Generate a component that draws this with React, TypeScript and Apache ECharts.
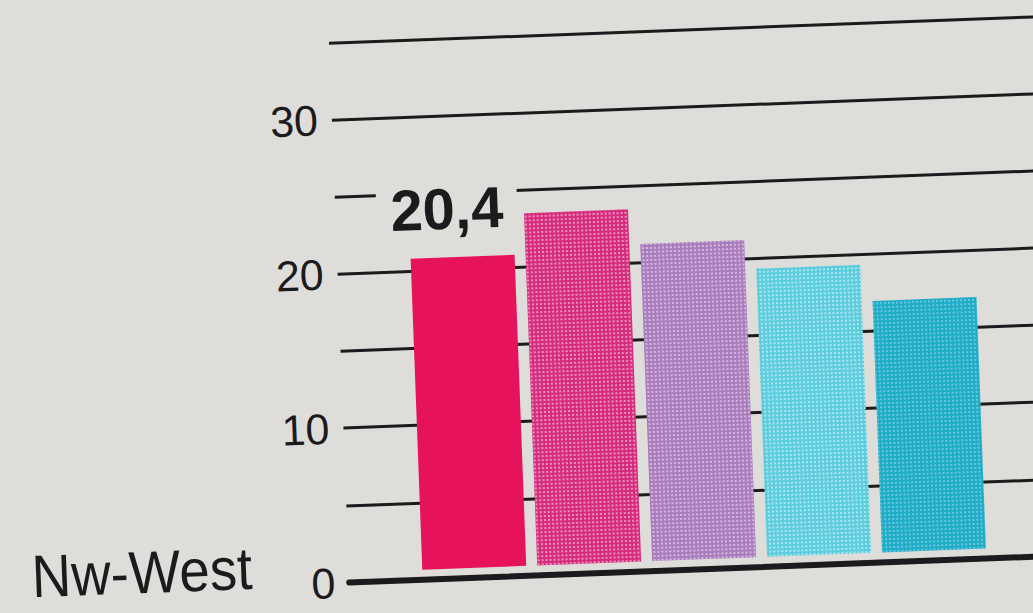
import React, { useEffect, useRef } from 'react';
import * as echarts from 'echarts';

// ---- data ----
const categories = ['1', '2', '3', '4', '5'];
const values = [20.4, 23.1, 20.8, 18.9, 16.5];
const barColors = ['#e6125b', '#d62c7d', '#a97cbc', '#5ccbdb', '#20abc7'];
const dotColors = ['', 'rgba(255,225,240,0.55)', 'rgba(245,230,250,0.55)', 'rgba(235,255,255,0.55)', 'rgba(210,245,250,0.4)'];
const yMin = 0;
const yMax = 35;
const yStep = 5;
const yLabelStep = 10;
const regionLabel = 'Nw-West';
const labeledIndex = 0;

const PAPER = '#dfddd9';
const INK = '#1b1a1c';
const REGULAR = '"Liberation Sans", Arial, sans-serif';

export default function App() {
  const ref = useRef<HTMLDivElement>(null);

  useEffect(() => {
    const chart = echarts.init(ref.current as HTMLDivElement, undefined, { renderer: 'svg' });
    const option = {
      animation: false,
      backgroundColor: 'transparent',
      grid: [
        { left: 339, right: 10, top: 36, bottom: 37 },
        { left: 407, width: 575, top: 32, bottom: 47 },
      ],
      xAxis: [
        {
          type: 'category',
          gridIndex: 0,
          data: categories,
          axisLine: { show: true, lineStyle: { color: INK, width: 6 } },
          axisTick: { show: false },
          axisLabel: { show: false },
          splitLine: { show: false },
        },
        {
          type: 'category',
          gridIndex: 1,
          data: categories,
          axisLine: { show: false },
          axisTick: { show: false },
          axisLabel: { show: false },
          splitLine: { show: false },
        },
      ],
      yAxis: [
        {
          type: 'value',
          gridIndex: 0,
          min: yMin,
          max: yMax,
          interval: yStep,
          axisLine: { show: false },
          axisTick: { show: false },
          splitLine: { show: true, lineStyle: { color: INK, width: 3 } },
          axisLabel: {
            margin: 14,
            fontSize: 43,
            fontFamily: REGULAR,
            color: INK,
            formatter: (v: number) => (v % yLabelStep === 0 ? String(v) : ''),
          },
        },
        {
          type: 'value',
          gridIndex: 1,
          min: yMin,
          max: yMax,
          interval: yStep,
          show: false,
          splitLine: { show: false },
        },
      ],
      series: [
        {
          type: 'bar',
          xAxisIndex: 1,
          yAxisIndex: 1,
          barWidth: 104,
          data: values.map((v, i) => ({
            value: v,
            itemStyle: dotColors[i]
              ? {
                  color: barColors[i],
                  decal: {
                    symbol: 'rect',
                    symbolSize: 1,
                    dashArrayX: [2, 2],
                    dashArrayY: [2, 2],
                    color: dotColors[i],
                  },
                }
              : { color: barColors[i] },
            label:
              i === labeledIndex
                ? {
                    show: true,
                    position: 'top',
                    distance: 20,
                    offset: [-14, 0],
                    fontSize: 58,
                    fontWeight: 'bold',
                    fontFamily: REGULAR,
                    color: INK,
                    backgroundColor: PAPER,
                    padding: [0, 14],
                    lineHeight: 58,
                    formatter: (p: any) => String(p.value).replace('.', ','),
                  }
                : { show: false },
          })),
        },
      ],
      graphic: [
        {
          type: 'text',
          x: 22,
          y: 558,
          scaleX: 0.91,
          style: {
            text: regionLabel,
            fontSize: 60,
            fontFamily: REGULAR,
            fill: INK,
            verticalAlign: 'middle',
          },
        },
      ],
    };
    chart.setOption(option as any);
    return () => chart.dispose();
  }, []);

  return (
    <div
      style={{
        position: 'fixed',
        left: 0,
        top: 0,
        width: 1033,
        height: 613,
        overflow: 'hidden',
        background: PAPER,
      }}
    >
      <div
        ref={ref}
        style={{
          position: 'absolute',
          left: 0,
          top: 0,
          width: 1100,
          height: 613,
          transform: 'rotate(-2.15deg)',
          transformOrigin: '516.5px 306.5px',
        }}
      />
    </div>
  );
}
